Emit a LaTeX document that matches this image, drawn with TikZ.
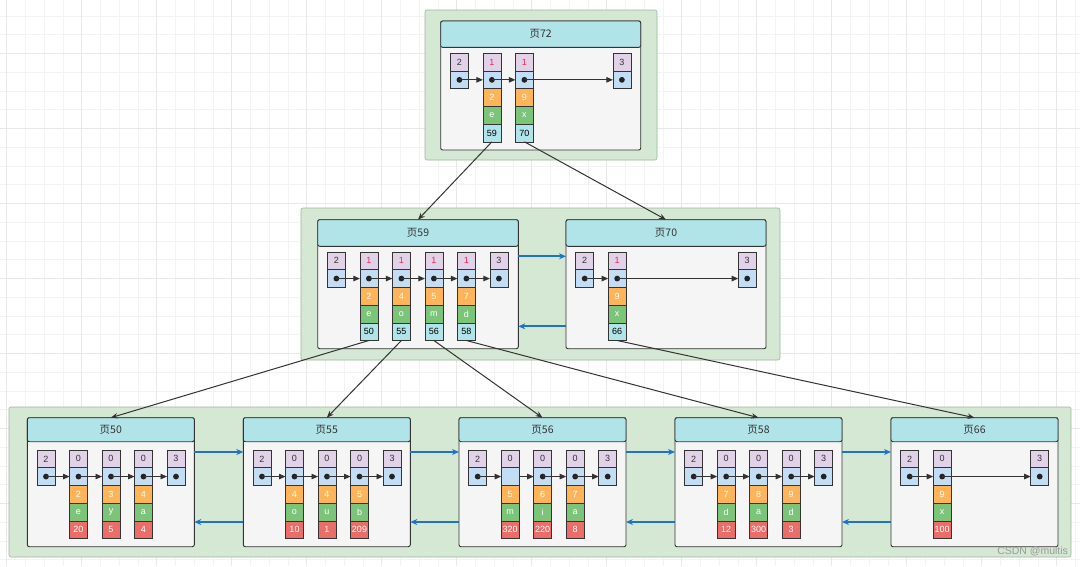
\documentclass[tikz,border=0pt]{standalone}
\usepackage{fontspec}
\setmainfont{Liberation Sans}
\newfontfamily\cjk{Noto Sans CJK SC}
\usepackage{xcolor}
\usepackage{tikz}
\usetikzlibrary{arrows.meta, positioning, calc}

\definecolor{gridminor}{HTML}{F3F3F3}
\definecolor{gridmajor}{HTML}{E8E8E8}
\definecolor{framefill}{HTML}{D5E8D4}
\definecolor{frameline}{HTML}{9DB59A}
\definecolor{pagefill}{HTML}{F5F5F5}
\definecolor{pageline}{HTML}{333333}
\definecolor{headfill}{HTML}{B1E4E8}
\definecolor{cntfill}{HTML}{E1D2E8}
\definecolor{ptrfill}{HTML}{C2DDF4}
\definecolor{numfill}{HTML}{FFB45A}
\definecolor{keyfill}{HTML}{7BC47A}
\definecolor{leaffill}{HTML}{EA6D69}
\definecolor{childfill}{HTML}{B1E4E8}
\definecolor{onetext}{HTML}{F0245C}
\definecolor{inktext}{HTML}{333333}
\definecolor{bluelink}{HTML}{2072C8}
\definecolor{treecol}{HTML}{333333}
\definecolor{dotcol}{HTML}{222222}
\definecolor{wmcol}{HTML}{9A9A9A}

\begin{document}
\begin{tikzpicture}[x=1pt, y=-1pt,
    every node/.style={inner sep=0pt, outer sep=0pt, font=\fontsize{9}{10}\selectfont},
    gridline/.style={draw=gridminor, line width=0.5pt},
    gridbold/.style={draw=gridmajor, line width=0.6pt},
    frame/.style={draw=frameline, fill=framefill, rounded corners=2pt,
                  line width=0.6pt, anchor=north west},
    pagebox/.style={draw=pageline, fill=pagefill, rounded corners=2pt,
                    line width=0.9pt, minimum height=129pt, anchor=north west},
    pagehead/.style={draw=pageline, fill=headfill, rounded corners=2pt,
                     line width=0.9pt, anchor=north west, text=inktext,
                     font=\cjk\fontsize{10.5}{12}\selectfont},
    cell/.style={draw=pageline, line width=0.6pt, minimum width=18pt,
                 minimum height=17.7pt, anchor=north west},
    cntcell/.style={cell, fill=cntfill, text=inktext},
    ptrcell/.style={cell, fill=ptrfill},
    numcell/.style={cell, fill=numfill, text=white},
    keycell/.style={cell, fill=keyfill, text=white},
    childcell/.style={cell, fill=childfill, text=black},
    leafcell/.style={cell, fill=leaffill, text=white},
    link/.style={draw=treecol, line width=0.9pt, -{Triangle[length=6.5pt, width=5.5pt]}},
    sibling/.style={draw=bluelink, line width=1.7pt, -{Stealth[length=7pt, width=6pt]}},
    tree/.style={draw=treecol, line width=1pt, -{Stealth[length=7pt, width=5.5pt]}}
  ]
  \useasboundingbox (0,0) rectangle (1080,566);
  \fill[white] (0,0) rectangle (1080,566);

  % background grid
  \foreach \gx in {6.7,25.45,...,1080} \draw[gridline] (\gx,0) -- (\gx,566);
  \foreach \gy in {15.8,34.55,...,566} \draw[gridline] (0,\gy) -- (1080,\gy);
  \foreach \gx in {6.7,81.7,...,1080} \draw[gridbold] (\gx,0) -- (\gx,566);
  \foreach \gy in {53.3,128.3,...,566} \draw[gridbold] (0,\gy) -- (1080,\gy);

  % levels
  \node[frame, minimum width=232, minimum height=150] (lvl2) at (425,10) {};
  \node[frame, minimum width=479, minimum height=152] (lvl1) at (301,208) {};
  \node[frame, minimum width=1062, minimum height=150] (lvl0) at (9,407) {};

  % pages with their infimum / supremum records
  \foreach \pg/\px/\py/\pw/\hh/\last in {72/440.7/21/200/26.4/5,
      59/317.7/219.7/200.6/26.6/5, 70/566/219.7/200/26.6/5,
      50/27.3/417.7/167/24/4, 55/243.3/417.7/167/24/4,
      56/459/417.7/167/24/4, 58/675/417.7/167/24/4, 66/891/417.7/167/24/4} {
    \node[pagebox, minimum width=\pw] (p\pg) at (\px,\py) {};
    \node[pagehead, minimum width=\pw, minimum height=\hh] (p\pg h) at (\px,\py) {页\pg};
    \node[cntcell] (p\pg-0t) at (\px+9.7,\py+32.3) {2};
    \node[ptrcell, below=0pt of p\pg-0t] (p\pg-0p) {};
    \node[cntcell] (p\pg-\last t) at (\px+9.7+32.5*\last,\py+32.3) {3};
    \node[ptrcell, below=0pt of p\pg-\last t] (p\pg-\last p) {};
  }

  % directory records
  \foreach \pg/\c/\k/\l/\v in {72/1/2/e/59, 72/2/9/x/70, 59/1/2/e/50, 59/2/4/o/55,
      59/3/5/m/56, 59/4/7/d/58, 70/1/9/x/66} {
    \node[cntcell, text=onetext] (p\pg-\c t) at ($(p\pg.north west)+(9.7+32.5*\c,32.3)$) {1};
    \node[ptrcell, below=0pt of p\pg-\c t] (p\pg-\c p) {};
    \node[numcell, below=0pt of p\pg-\c p] (p\pg-\c a) {\k};
    \node[keycell, below=0pt of p\pg-\c a] (p\pg-\c b) {\l};
    \node[childcell, below=0pt of p\pg-\c b] (p\pg-\c c) {\v};
  }

  % user records
  \foreach \pg/\c/\k/\l/\v in {50/1/2/e/20, 50/2/3/y/5, 50/3/4/a/4,
      55/1/4/o/10, 55/2/4/u/1, 55/3/5/b/209, 56/1/5/m/320, 56/2/6/i/220,
      56/3/7/a/8, 58/1/7/d/12, 58/2/8/a/300, 58/3/9/d/3, 66/1/9/x/100} {
    \node[cntcell] (p\pg-\c t) at ($(p\pg.north west)+(9.7+32.5*\c,32.3)$) {0};
    \node[ptrcell, below=0pt of p\pg-\c t] (p\pg-\c p) {};
    \node[numcell, below=0pt of p\pg-\c p] (p\pg-\c a) {\k};
    \node[keycell, below=0pt of p\pg-\c a] (p\pg-\c b) {\l};
    \node[leafcell, below=0pt of p\pg-\c b] (p\pg-\c c) {\v};
  }

  % next-record chains
  \foreach \pg/\cols in {72/{0,1,2,5}, 59/{0,1,2,3,4,5}, 70/{0,1,5},
      50/{0,1,2,3,4}, 55/{0,1,2,3,4}, 56/{2,3,4}, 58/{0,1,2,3,4}, 66/{0,1,4}} {
    \foreach \c [count=\n, remember=\c as \prev] in \cols {
      \fill[dotcol] (p\pg-\c p) circle (2.9);
      \ifnum\n>1 \draw[link] (p\pg-\prev p.center) -- (p\pg-\c p.west);\fi
    }
  }
  \fill[dotcol] (p56-0p) circle (2.9);
  \draw[link] (p56-0p.center) -- (p56-1p.west);
  \draw[link] (p56-1p.east) -- (p56-2p.west);

  % page list
  \foreach \a/\b/\ya/\yb in {59/70/36.6/106.6, 50/55/34.3/104.3,
      55/56/34.3/104.3, 56/58/34.3/104.3, 58/66/34.3/104.3} {
    \draw[sibling] ($(p\a.north east)+(0,\ya)$) -- ($(p\b.north west)+(0,\ya)$);
    \draw[sibling] ($(p\b.north west)+(0,\yb)$) -- ($(p\a.north east)+(0,\yb)$);
  }

  % child pointers
  \foreach \src/\dst in {p72-1c/p59, p72-2c/p70, p59-1c/p50, p59-2c/p55,
      p59-3c/p56, p59-4c/p58, p70-1c/p66}
    \draw[tree] (\src.south) -- (\dst.north);

  \node[text=wmcol, font=\fontsize{10.5}{12}\selectfont, anchor=east] (mark) at (1068,551) {CSDN @multis};
\end{tikzpicture}
\end{document}
